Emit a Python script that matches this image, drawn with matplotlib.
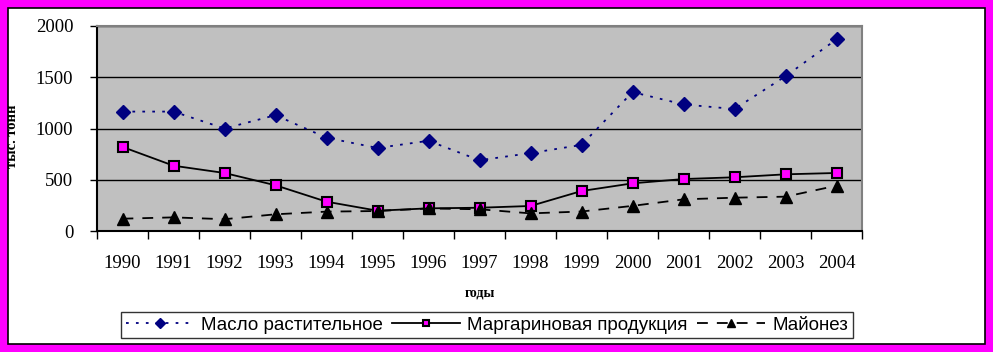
import matplotlib.pyplot as plt
from matplotlib.patches import Rectangle

# data (тыс. тонн)
years = ["1990", "1991", "1992", "1993", "1994", "1995", "1996", "1997",
         "1998", "1999", "2000", "2001", "2002", "2003", "2004"]
oil = [1165, 1165, 1000, 1130, 910, 810, 880, 690, 760, 840, 1355, 1235, 1190, 1510, 1870]
margarine = [820, 637, 566, 446, 286, 198, 221, 227, 244, 390, 465, 507, 524, 553, 566]
mayo = [120, 133, 115, 163, 189, 195, 220, 212, 172, 190, 245, 309, 325, 335, 442]
yticks = [0, 500, 1000, 1500, 2000]

W, H = 993, 352
fig = plt.figure(figsize=(W / 100, H / 100), dpi=100)
fig.patch.set_facecolor("white")

def px(x, y, w, h):
    # pixel box (from top-left) -> figure fraction
    return [x / W, 1 - (y + h) / H, w / W, h / H]

ax = fig.add_axes(px(97, 26, 765, 205))
ax.set_facecolor("#c0c0c0")
x = list(range(len(years)))

ax.plot(x, oil, color="#000080", linestyle=(0, (1.5, 4)), linewidth=1.3,
        marker="D", markersize=7, markerfacecolor="#000080",
        markeredgecolor="#000080", label="Масло растительное", zorder=3)
ax.plot(x, margarine, color="black", linestyle="-", linewidth=1.3,
        marker="s", markersize=7, markerfacecolor="#ff00ff",
        markeredgecolor="black", markeredgewidth=1.5,
        label="Маргариновая продукция", zorder=3)
ax.plot(x, mayo, color="black", linestyle=(0, (6, 5)), linewidth=1.3,
        marker="^", markersize=8, markerfacecolor="black",
        markeredgecolor="black", label="Майонез", zorder=3)

ax.set_xlim(-0.5, len(years) - 0.5)
ax.set_ylim(0, 2000)
ax.set_yticks(yticks)
ax.set_yticklabels([str(v) for v in yticks])
ax.yaxis.grid(True, color="black", linewidth=1)
ax.set_axisbelow(True)

# category ticks sit between the labels
ax.set_xticks([i - 0.5 for i in range(len(years) + 1)])
ax.set_xticklabels([])
ax.set_xticks(x, minor=True)
ax.set_xticklabels(years, minor=True)
ax.tick_params(axis="x", which="minor", length=0, pad=17)
ax.tick_params(axis="x", which="major", length=6, width=1, color="black", direction="out")
ax.tick_params(axis="y", length=5, width=1, direction="out", pad=12)

serif = {"family": "Liberation Serif", "size": 13.5}
for lab in ax.get_xticklabels(minor=True) + ax.get_yticklabels():
    lab.set_fontproperties(serif)

ax.spines["left"].set_color("black")
ax.spines["bottom"].set_color("black")
ax.spines["top"].set_color("#808080")
ax.spines["right"].set_color("#808080")
for s in ax.spines.values():
    s.set_linewidth(1.5)

fig.text(480 / W, 1 - 293 / H, "годы", ha="center", va="center",
         family="Liberation Serif", weight="bold", fontsize=10)
fig.text(13 / W, 1 - 136 / H, "тыс. тонн", ha="center", va="center",
         rotation=90, family="Liberation Serif", weight="bold", fontsize=10.5)

leg = fig.legend(loc="center", bbox_to_anchor=(487 / W, 1 - 325 / H), ncol=3,
                 frameon=True, fancybox=False, edgecolor="black",
                 prop={"family": "Liberation Sans", "size": 13.5},
                 handlelength=3.6, columnspacing=0.5, handletextpad=0.4,
                 borderpad=0.25, borderaxespad=0, markerscale=0.7)
leg.get_frame().set_linewidth(1)

# magenta frame around the white area
mag = "#ff00ff"
for r in [(0, 0, W, 8), (0, 344, W, 8), (0, 0, 8, H), (985, 0, 8, H)]:
    fig.patches.append(Rectangle((r[0] / W, 1 - (r[1] + r[3]) / H), r[2] / W, r[3] / H,
                                 transform=fig.transFigure, facecolor=mag,
                                 edgecolor="none", zorder=10))
fig.patches.append(Rectangle((8 / W, 1 - 344 / H), 977 / W, 336 / H,
                             transform=fig.transFigure, facecolor="none",
                             edgecolor="black", linewidth=1.2, zorder=11))

fig.savefig("out.png", dpi=100)
